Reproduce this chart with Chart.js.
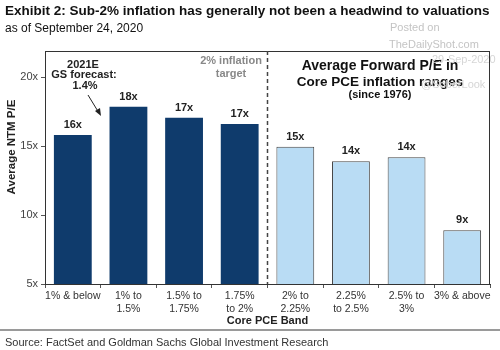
<!DOCTYPE html>
<html>
<head>
<meta charset="utf-8">
<script src="https://cdn.jsdelivr.net/npm/chart.js@4"></script>
<style>
  html, body { margin: 0; padding: 0; background: #fff; }
</style>
</head>
<body>
<canvas id="pe-chart" width="500" height="350"></canvas>
<script>
const bands = [["1% & below"], ["1% to", "1.5%"], ["1.5% to", "1.75%"], ["1.75%", "to 2%"],
               ["2% to", "2.25%"], ["2.25%", "to 2.5%"], ["2.5% to", "3%"], ["3% & above"]]
const avgPE = [15.8, 17.85, 17.05, 16.6, 14.95, 13.9, 14.2, 8.9]
const peLabels = ["16x", "18x", "17x", "17x", "15x", "14x", "14x", "9x"]
const yTicks = [5, 10, 15, 20]

const navy = '#0f3b6c'
const light = '#b9dcf4'
const FONT = 'Liberation Sans, Arial, sans-serif'

const extras = {
  id: 'extras',
  afterDatasetsDraw(chart) {
    const c = chart.ctx
    const a = chart.chartArea
    const x = chart.scales.x
    const y = chart.scales.y
    c.save()

    // frame
    c.strokeStyle = '#333'
    c.lineWidth = 1
    c.strokeRect(a.left + 0.5, a.top + 0.5, a.right - a.left - 1, a.bottom - a.top)

    // dashed divider
    const mid = (x.getPixelForValue(3) + x.getPixelForValue(4)) / 2
    c.setLineDash([4, 3])
    c.lineWidth = 1.5
    c.strokeStyle = '#444'
    c.beginPath()
    c.moveTo(mid, a.top)
    c.lineTo(mid, a.bottom)
    c.stroke()
    c.setLineDash([])

    // value labels
    c.fillStyle = '#222'
    c.font = 'bold 11px ' + FONT
    c.textAlign = 'center'
    c.textBaseline = 'middle'
    avgPE.forEach((v, i) => {
      c.fillText(peLabels[i], x.getPixelForValue(i), y.getPixelForValue(v) - 10)
    })

    // GS forecast note + arrow
    c.fillText('2021E', 83, 65)
    c.fillText('GS forecast:', 84, 75)
    c.fillText('1.4%', 85, 86)
    c.strokeStyle = '#222'
    c.lineWidth = 1
    c.beginPath()
    c.moveTo(88, 95)
    c.lineTo(99, 113)
    c.stroke()
    c.beginPath()
    c.moveTo(101, 116)
    c.lineTo(95, 111)
    c.lineTo(100, 108)
    c.closePath()
    c.fill()

    // inflation target
    c.fillStyle = '#888'
    c.fillText('2% inflation', 231, 61)
    c.fillText('target', 231, 74)

    // right panel heading
    c.fillStyle = '#111'
    c.font = 'bold 14px ' + FONT
    c.fillText('Average Forward P/E in', 380, 66)
    c.font = 'bold 13.5px ' + FONT
    c.fillText('Core PCE inflation ranges', 380, 82)
    c.font = 'bold 11px ' + FONT
    c.fillText('(since 1976)', 380, 95)

    // axis titles
    c.fillStyle = '#222'
    c.fillText('Core PCE Band', (a.left + a.right) / 2, 321)
    c.save()
    c.translate(12, 147)
    c.rotate(-Math.PI / 2)
    c.font = 'bold 11.5px ' + FONT
    c.fillText('Average NTM P/E', 0, 0)
    c.restore()

    // header
    c.textAlign = 'left'
    c.fillStyle = '#111'
    c.font = 'bold 13.5px ' + FONT
    c.fillText('Exhibit 2: Sub-2% inflation has generally not been a headwind to valuations', 5, 11, 486)
    c.font = '12px ' + FONT
    c.fillText('as of September 24, 2020', 5, 29)

    // watermark
    c.fillStyle = '#c4c4c4'
    c.font = '11px ' + FONT
    c.fillText('Posted on', 390, 28)
    c.fillText('TheDailyShot.com', 389, 45)
    c.fillStyle = '#d6d6d6'
    c.fillText('29-Sep-2020', 432, 60)
    c.fillText('@SoberLook', 421, 85)

    // footer
    c.strokeStyle = '#9a9a9a'
    c.lineWidth = 2
    c.beginPath()
    c.moveTo(0, 330)
    c.lineTo(500, 330)
    c.stroke()
    c.fillStyle = '#333'
    c.font = '11px ' + FONT
    c.fillText('Source: FactSet and Goldman Sachs Global Investment Research', 5, 343)
    c.restore()
  }
}

new Chart(document.getElementById('pe-chart'), {
  type: 'bar',
  data: {
    labels: bands,
    datasets: [{
      data: avgPE,
      backgroundColor: avgPE.map((v, i) => i < 4 ? navy : light),
      borderColor: '#444',
      borderWidth: avgPE.map((v, i) => i < 4 ? 0 : 1),
      barPercentage: 0.68,
      categoryPercentage: 1
    }]
  },
  options: {
    responsive: false,
    animation: false,
    devicePixelRatio: 1,
    layout: { padding: { top: 51, right: 10, left: 0, bottom: 0 } },
    plugins: { legend: { display: false }, tooltip: { enabled: false } },
    scales: {
      x: {
        grid: { drawOnChartArea: false, drawTicks: true, tickLength: 4, color: '#555' },
        border: { color: '#333' },
        ticks: { color: '#333', font: { family: FONT, size: 10.5 }, padding: 2, maxRotation: 0, autoSkip: false },
        afterFit(s) { s.height = 66 }
      },
      y: {
        min: 5,
        max: 21.9,
        grid: { drawOnChartArea: false, drawTicks: true, tickLength: 4, color: '#555' },
        border: { color: '#333' },
        ticks: { color: '#444', font: { family: FONT, size: 11 }, padding: 3, callback: v => v + 'x' },
        afterBuildTicks(s) { s.ticks = yTicks.map(v => ({ value: v })) },
        afterFit(s) { s.width = 45 }
      }
    }
  },
  plugins: [extras]
})
</script>
</body>
</html>
